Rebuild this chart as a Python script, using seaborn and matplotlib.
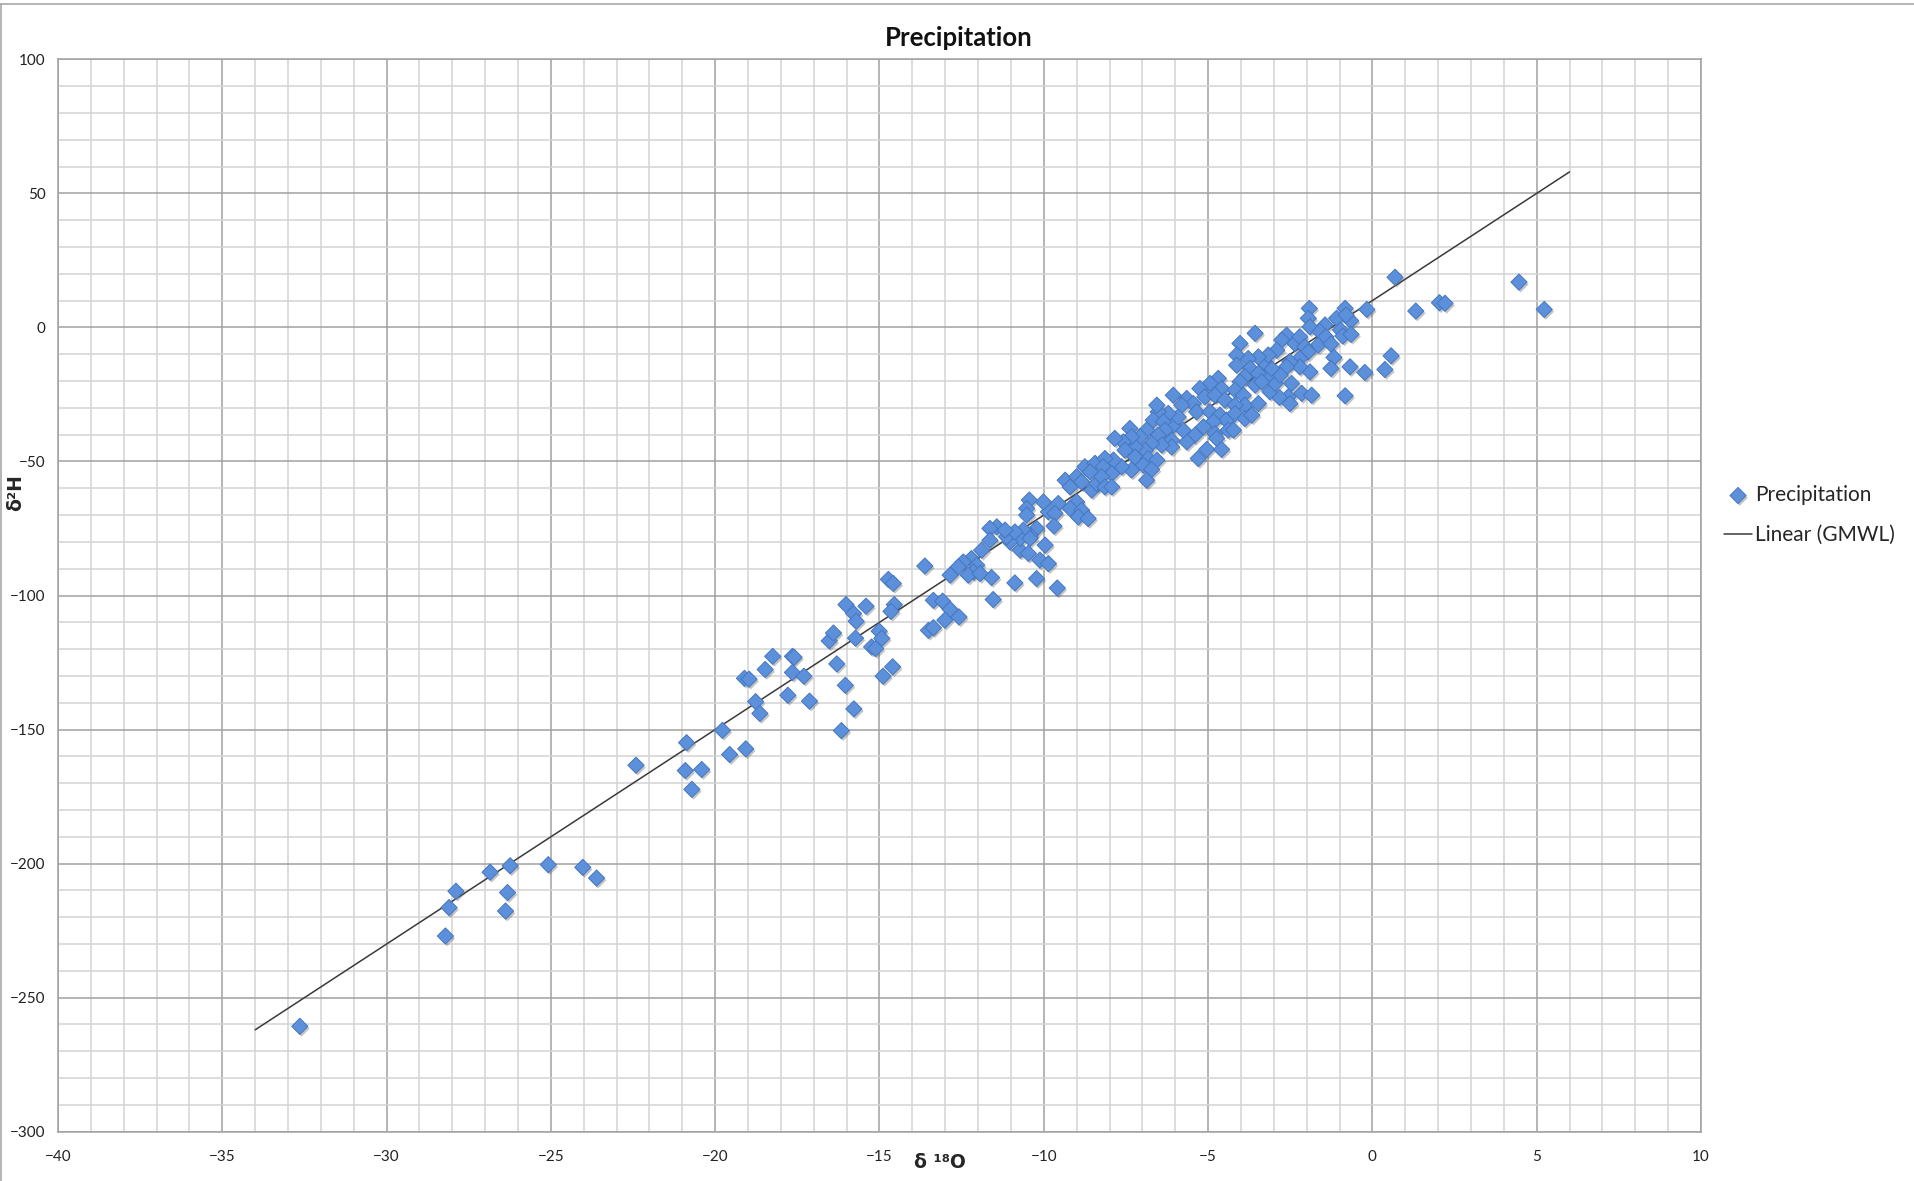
import matplotlib
matplotlib.use("Agg")
import matplotlib.pyplot as plt
import matplotlib.patheffects as pe
from matplotlib.ticker import MultipleLocator
import seaborn as sns
import pandas as pd

sns.set_style("white")
plt.rcParams["font.family"] = ["Lato", "DejaVu Sans"]

# ---- data (δ18O, δ2H) ----
d18O = [
    -32.64, -28.21, -28.10, -27.89, -26.85, -26.24, -26.32, -26.38, -25.08, -24.03, -23.61,
    -22.41, -20.87, -20.91, -20.41, -20.71, -19.78, -19.56, -19.07, -19.11, -18.97, -18.77,
    -18.64, -18.48, -18.25, -17.79, -17.65, -17.60, -17.65, -17.30, -17.13, -16.53, -16.40,
    -16.30, -16.04, -16.16, -15.78, -16.02, -15.79, -15.71, -15.73, -15.41, -15.01, -14.93,
    -15.24, -15.12, -14.89, -14.60, -14.73, -14.58, -14.55, -14.65, -13.62, -13.36, -13.08,
    -12.85, -12.58, -13.01, -13.51, -13.36, -11.59, -11.54, -10.88, -10.22, -9.59, -10.12, -9.86,
    -8.75, -8.44, -8.59, -9.35, -9.00, -9.20, -8.85, -8.54, -8.39, -9.00, -9.20, -8.85, -8.95,
    -8.65, -9.56, -9.86, -10.01, -9.66, -9.69, -10.44, -10.52, -10.52, -10.22, -10.42, -10.62,
    -9.96, -10.72, -10.47, -10.72, -10.42, -11.03, -11.13, -10.88, -11.43, -11.64, -11.18,
    -11.64, -11.89, -12.20, -12.45, -12.04, -12.60, -12.14, -12.30, -12.85, -11.94,
    -4.69, -4.94, -4.59, -5.25, -5.10, -4.79, -4.49, -6.06, -5.65, -5.45, -5.80, -5.35, -4.94,
    -4.64, -4.44, -4.84, -5.14, -4.79, -4.74, -4.39, -5.40, -5.65, -5.04, -4.59, -5.30, -5.76,
    -6.06, -5.91, -6.21, -6.52, -6.56, -6.67, -6.36, -6.31, -6.52, -6.11, -6.11, -6.41, -6.72,
    -6.87, -7.07, -6.92, -7.22, -7.38, -7.33, -7.58, -7.84, -7.53, -7.22, -6.82, -6.56, -6.97,
    -6.72, -6.87, -7.33, -7.63, -7.88, -8.14, -8.19, -7.93, -8.24, -8.14, -7.93,
    -1.92, -1.95, -1.90, -1.44, -1.60, -1.65, -1.42, -3.57, -4.03, -2.61, -2.76, -2.91, -2.36,
    -2.21, -2.06, -1.95, -2.21, -1.90, -2.21, -2.51, -2.61, -2.46, -2.15, -1.85, -2.56, -2.51,
    -2.83, -3.12, -2.96, -2.81, -3.22, -3.07, -3.32, -3.17, -3.47, -3.78, -4.13, -4.13, -3.72,
    -3.88, -3.47, -3.57, -3.37, -4.03, -4.18, -3.93, -3.88, -3.47, -4.18, -4.18, -3.88, -3.67,
    -4.23,
    0.69, -0.17, -0.83, -1.09, -0.66, -0.80, -0.97, -0.90, -0.65, -1.26, -1.17, -1.26, -0.68,
    -0.23, 0.38, 0.57, -0.83, 1.32, 2.04, 2.21,
    4.46, 5.23,
]
d2H = [
    -260.7, -227.0, -216.4, -210.3, -203.2, -200.8, -210.8, -217.7, -200.4, -201.4, -205.4,
    -163.3, -154.9, -165.3, -164.9, -172.3, -150.3, -159.3, -157.2, -130.9, -131.2, -139.6,
    -144.0, -127.6, -122.7, -137.2, -122.7, -123.0, -128.7, -130.1, -139.4, -116.9, -114.0,
    -125.5, -133.5, -150.4, -142.3, -103.4, -106.7, -109.6, -115.9, -104.0, -113.3, -116.0,
    -119.2, -119.8, -130.1, -126.6, -94.0, -95.5, -103.4, -105.9, -89.0, -101.8, -102.1,
    -105.2, -108.0, -109.2, -113.0, -112.0, -93.3, -101.5, -95.3, -93.7, -97.2, -86.8, -88.1,
    -52.0, -50.7, -53.9, -57.0, -55.7, -59.5, -57.6, -60.7, -58.2, -65.1, -67.5, -68.2, -70.7,
    -71.3, -65.7, -68.8, -65.1, -69.4, -74.1, -64.4, -67.5, -70.0, -75.0, -77.5, -75.6,
    -81.2, -83.1, -84.3, -78.7, -78.7, -80.0, -78.1, -76.3, -74.4, -75.0, -75.6,
    -79.4, -83.1, -86.2, -87.5, -88.7, -89.3, -91.2, -92.4, -92.4, -91.8,
    -19.0, -20.9, -22.8, -22.8, -25.9, -25.3, -27.1, -25.3, -26.5, -28.4, -29.0, -31.5, -31.5,
    -32.7, -34.6, -35.2, -37.1, -39.6, -41.4, -38.3, -40.2, -42.7, -45.5, -45.5, -48.9, -38.3,
    -36.5, -33.4, -32.1, -31.5, -29.0, -34.6, -35.2, -38.3, -40.2, -42.1, -44.6, -43.9, -43.3,
    -38.3, -40.8, -45.8, -44.6, -37.7, -40.8, -42.7, -41.4, -45.8, -48.3, -48.9, -49.5, -51.4,
    -53.0, -57.0, -53.2, -52.0, -49.5, -48.9, -52.0, -54.5, -55.7, -59.5, -59.5,
    7.1, 3.4, 0.2, 0.9, -1.6, -6.6, -3.5, -2.2, -6.0, -2.9, -4.7, -8.5, -6.0,
    -3.5, -7.2, -9.1, -11.6, -16.6, -14.7, -12.8, -14.7, -20.9, -24.6, -25.3, -25.9, -28.4,
    -26.1, -24.0, -20.9, -17.8, -18.4, -15.3, -12.8, -10.3, -11.0, -11.6, -10.3, -14.1, -15.3,
    -18.4, -17.2, -21.5, -20.3, -20.3, -23.4, -25.3, -29.0, -28.4, -29.0, -32.1, -34.0, -32.7,
    -38.3,
    18.7, 6.7, 7.1, 3.4, 2.5, 4.6, -1.0, -3.2, -2.6, -6.2, -11.2, -15.3, -14.7,
    -16.8, -15.7, -10.6, -25.5, 6.1, 9.2, 9.0,
    16.9, 6.7,
]
# GMWL trend line end points
gmwl_x = [-34, 6]
gmwl_y = [-262, 58]

x_ticks = list(range(-40, 11, 5))
y_ticks = list(range(-300, 101, 50))

df = pd.DataFrame({"d18O": d18O, "d2H": d2H})
line_df = pd.DataFrame({"x": gmwl_x, "y": gmwl_y})

W, H = 1915, 1181
fig = plt.figure(figsize=(W / 100, H / 100), dpi=100)
L, R, T, B = 58, 1701, 59.3, 1131.7
ax = fig.add_axes([L / W, 1 - B / H, (R - L) / W, (B - T) / H])

ax.set_xlim(-40, 10)
ax.set_ylim(-300, 100)
ax.set_xticks(x_ticks)
ax.set_yticks(y_ticks)
ax.xaxis.set_minor_locator(MultipleLocator(1))
ax.yaxis.set_minor_locator(MultipleLocator(10))
ax.grid(which="minor", color="#D3D3D3", lw=1.1, zorder=0)
ax.grid(which="major", color="#A0A0A0", lw=1.1, zorder=0)
ax.set_axisbelow(True)
for s in ax.spines.values():
    s.set_color("#A0A0A0")
    s.set_linewidth(1.1)

ax.tick_params(axis="both", which="minor", length=0)
ax.tick_params(axis="y", which="major", length=4, width=1, color="#A0A0A0",
               labelsize=11, labelcolor="#222222", pad=5)
ax.tick_params(axis="x", which="major", length=0, labelsize=11,
               labelcolor="#222222", pad=13)

sns.lineplot(data=line_df, x="x", y="y", color="#3a3a3a", lw=1.1, ax=ax,
             label="Linear (GMWL)", zorder=3)
sns.scatterplot(data=df, x="d18O", y="d2H", marker="D", s=68,
                color="#5C90DA", edgecolor="#4677C0", linewidth=0.7,
                ax=ax, label="Precipitation", zorder=4)
ax.collections[-1].set_path_effects([
    pe.SimplePatchShadow(offset=(1.2, -1.6), shadow_rgbFace="#555555", alpha=0.35),
    pe.Normal()])

ax.set_xlabel("δ ¹⁸O", fontsize=13.5, fontweight="bold", family=["DejaVu Sans"])
ax.xaxis.set_label_coords((940 - L) / (R - L), -(1163 - B) / (B - T))
ax.xaxis.label.set_va("center")
ax.set_ylabel("δ²H", fontsize=13.5, fontweight="bold", family=["DejaVu Sans"])
ax.yaxis.set_label_coords(-(58 - 16) / (R - L), (B - 493) / (B - T))
ax.yaxis.label.set_va("center")

fig.text(959 / W, 1 - 38 / H, "Precipitation", ha="center", va="center",
         fontsize=18.5, fontweight="bold", color="#111111")

handles, labels = ax.get_legend_handles_labels()
order = [labels.index("Precipitation"), labels.index("Linear (GMWL)")]
ax.legend([handles[i] for i in order], [labels[i] for i in order],
          loc="upper left", bbox_to_anchor=(1724 / W, 1 - 485 / H),
          bbox_transform=fig.transFigure, frameon=False, borderpad=0,
          fontsize=15, handlelength=1.35, handletextpad=0.15,
          labelspacing=0.95, borderaxespad=0)

# outer chart-area border (top and left edges visible in the reference)
fig.add_artist(plt.Line2D([0, 1], [1 - 4 / H, 1 - 4 / H], color="#A8A8A8",
                          lw=1.2, transform=fig.transFigure))
fig.add_artist(plt.Line2D([0.5 / W, 0.5 / W], [0, 1 - 4 / H], color="#A8A8A8",
                          lw=1.2, transform=fig.transFigure))

fig.savefig("out.png", dpi=100)
